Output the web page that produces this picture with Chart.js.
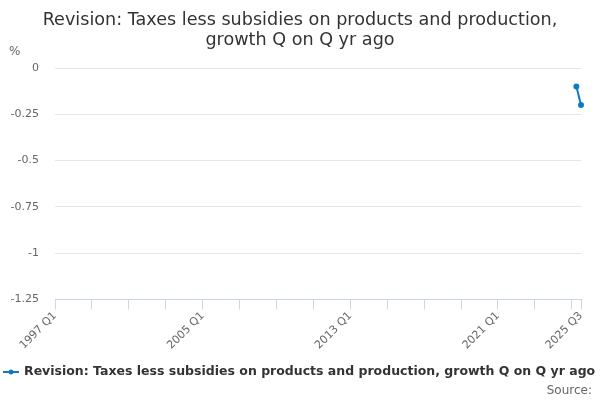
<!DOCTYPE html>
<html>
<head>
<meta charset="utf-8">
<script src="https://cdn.jsdelivr.net/npm/chart.js@4/dist/chart.umd.min.js"></script>
<style>
  html, body { margin: 0; padding: 0; background: #fff; }
  #wrap { width: 600px; height: 400px; }
</style>
</head>
<body>
<div id="wrap"><canvas id="grafico"></canvas></div>
<script>
// datos
const firstYear = 1997;
const lastYear = 2025;
const lastQuarter = 3;
const labelledQuarters = ['1997 Q1', '2005 Q1', '2013 Q1', '2021 Q1', '2025 Q3'];
const titleLines = ['Revision: Taxes less subsidies on products and production,', 'growth Q on Q yr ago'];
const seriesName = 'Revision: Taxes less subsidies on products and production, growth Q on Q yr ago';
const seriesQuarters = ['2025 Q2', '2025 Q3'];
const seriesValues = [-0.1, -0.2];
const yTicks = [0, -0.25, -0.5, -0.75, -1, -1.25];

const quarters = [];
for (let y = firstYear; y <= lastYear; y++) {
  for (let q = 1; q <= 4; q++) {
    if (y === lastYear && q > lastQuarter) break;
    quarters.push(y + ' Q' + q);
  }
}
const data = quarters.map(function (lab) {
  const i = seriesQuarters.indexOf(lab);
  return i >= 0 ? seriesValues[i] : null;
});

const azul = '#0f7ac4';
const fuente = "'DejaVu Sans', Verdana, sans-serif";

// textos fuera del grafico: titulo, unidad, leyenda y fuente
const extras = {
  id: 'extras',
  afterDraw(chart) {
    const c = chart.ctx;
    const w = chart.width;
    c.save();
    c.textBaseline = 'middle';

    c.font = '17.6px ' + fuente;
    c.fillStyle = '#333';
    c.textAlign = 'center';
    titleLines.forEach(function (t, i) { c.fillText(t, w / 2, 20 + i * 20); });

    c.font = '12px ' + fuente;
    c.fillStyle = '#666';
    c.textAlign = 'left';
    c.fillText('%', 9, 52);

    // leyenda
    const ly = 372;
    c.strokeStyle = azul;
    c.lineWidth = 2;
    c.beginPath(); c.moveTo(3, ly); c.lineTo(19, ly); c.stroke();
    c.fillStyle = azul;
    c.beginPath(); c.arc(11, ly, 2.5, 0, Math.PI * 2); c.fill();
    c.font = 'bold 12.5px ' + fuente;
    c.fillStyle = '#333';
    c.fillText(seriesName, 24, ly);

    c.font = '12px ' + fuente;
    c.fillStyle = '#666';
    c.textAlign = 'right';
    c.fillText('Source:', 592, 391);
    c.restore();
  }
};

new Chart(document.getElementById('grafico'), {
  type: 'line',
  data: {
    labels: quarters,
    datasets: [{
      label: seriesName,
      data: data,
      borderColor: azul,
      backgroundColor: azul,
      borderWidth: 2,
      pointRadius: 2,
      pointHoverRadius: 3,
      pointStyle: 'circle',
      fill: false,
      tension: 0,
      spanGaps: false
    }]
  },
  options: {
    responsive: true,
    maintainAspectRatio: false,
    animation: false,
    layout: { padding: { left: 5, right: 19, top: 68, bottom: 48 } },
    plugins: {
      title: { display: false },
      legend: { display: false },
      tooltip: { enabled: false }
    },
    scales: {
      x: {
        offset: false,
        border: { display: true, color: '#ccd6eb' },
        grid: {
          drawOnChartArea: false,
          drawTicks: true,
          tickLength: 10,
          color: function (ctx) {
            const i = ctx.index;
            return (i % 8 === 0 || i === quarters.length - 1) ? '#ccd6eb' : 'rgba(0,0,0,0)';
          }
        },
        ticks: {
          autoSkip: false,
          maxRotation: 45,
          minRotation: 45,
          color: '#666',
          font: { family: fuente, size: 11 },
          padding: 0,
          callback: function (v, i) {
            const lab = quarters[i];
            return labelledQuarters.indexOf(lab) >= 0 ? lab : '';
          }
        }
      },
      y: {
        min: -1.25,
        max: 0,
        border: { display: false },
        grid: { color: '#e6e6e6', drawTicks: false },
        afterBuildTicks: function (axis) {
          axis.ticks = yTicks.map(function (v) { return { value: v }; });
        },
        afterFit: function (axis) { axis.width = 50; },
        ticks: {
          color: '#666',
          font: { family: fuente, size: 11 },
          padding: 16,
          callback: function (v) { return String(v); }
        }
      }
    }
  },
  plugins: [extras]
});
</script>
</body>
</html>
